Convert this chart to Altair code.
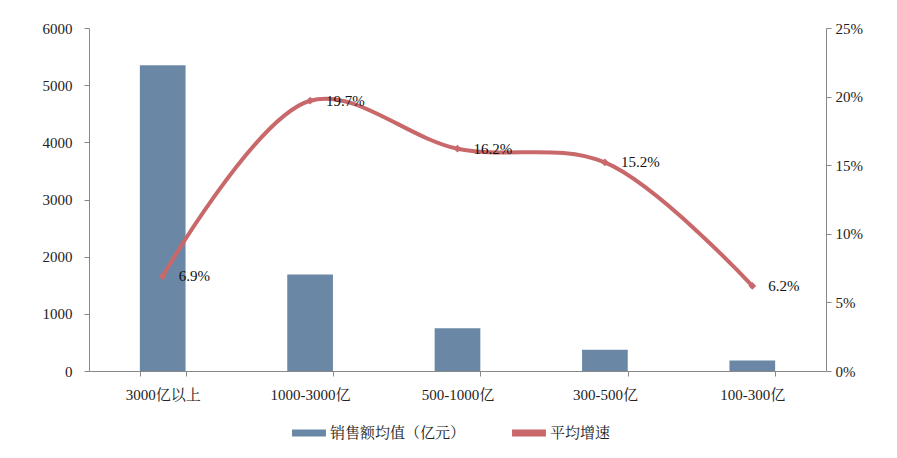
import altair as alt
import pandas as pd

categories = ["3000亿以上", "1000-3000亿", "500-1000亿", "300-500亿", "100-300亿"]
sales_avg = [5350, 1690, 750, 370, 185]
growth = [0.069, 0.197, 0.162, 0.152, 0.062]

bar_name = "销售额均值（亿元）"
line_name = "平均增速"

df = pd.DataFrame({"cat": categories, "sales": sales_avg, "growth": growth})

serif = "Liberation Serif, Noto Serif CJK SC, Noto Sans CJK SC"
bar_color = "#6A88A6"
line_color = "#C8686B"

x = alt.X("cat:N", sort=categories, title=None,
          scale=alt.Scale(paddingInner=0.69, paddingOuter=0.345),
          axis=alt.Axis(labelAngle=0, tickBand="extent", domainColor="#888888",
                        tickColor="#888888", labelFont=serif, labelFontSize=15,
                        labelColor="#222222", labelPadding=11, tickSize=5))

color_scale = alt.Scale(domain=[bar_name, line_name], range=[bar_color, line_color])

bars = alt.Chart(df).mark_bar(color=bar_color).encode(
    x=x,
    y=alt.Y("sales:Q", title=None,
            scale=alt.Scale(domain=[0, 6000]),
            axis=alt.Axis(values=[0, 1000, 2000, 3000, 4000, 5000, 6000], grid=False,
                          format="d",
                          domainColor="#888888", tickColor="#888888", labelFont=serif,
                          labelFontSize=15, labelColor="#222222", tickSize=5, labelPadding=12)),
    color=alt.Color("series:N", scale=color_scale,
                    legend=alt.Legend(title=None, orient="none", direction="horizontal",
                                      legendX=203, legendY=388,
                                      symbolType="M-1,-0.2L1,-0.2L1,0.2L-1,0.2Z",
                                      symbolSize=1150, symbolStrokeWidth=0,
                                      labelFont=serif, labelFontSize=15, labelColor="#222222",
                                      columnPadding=46, labelOffset=4))
).transform_calculate(series=f"'{bar_name}'")

yr = alt.Y("growth:Q", title=None,
           scale=alt.Scale(domain=[0, 0.25]),
           axis=alt.Axis(orient="right", format=".0%", values=[0, 0.05, 0.10, 0.15, 0.20, 0.25],
                         grid=False, domainColor="#888888", tickColor="#888888",
                         labelFont=serif, labelFontSize=15, labelColor="#222222",
                         tickSize=5, labelPadding=4))

line = alt.Chart(df).mark_line(interpolate="catmull-rom", strokeWidth=4, color=line_color).encode(
    x=x, y=yr,
    color=alt.Color("series:N", scale=color_scale)
).transform_calculate(series=f"'{line_name}'")

points = alt.Chart(df).mark_point(shape="diamond", filled=True, size=60, color=line_color,
                                  opacity=1).encode(x=x, y=yr)

labels = alt.Chart(df).mark_text(align="left", dx=16, dy=0, font=serif, fontSize=15,
                                 color="#111111").encode(
    x=x, y=yr, text=alt.Text("growth:Q", format=".1%"))

right = alt.layer(line, points, labels)

chart = alt.layer(bars, right).resolve_scale(y="independent").properties(
    width=737, height=343, background="white",
    padding={"left": 34, "top": 13, "right": 5, "bottom": 5}
).configure_view(stroke=None)

chart.save("out.html", embed_options={"renderer": "svg", "actions": False})
